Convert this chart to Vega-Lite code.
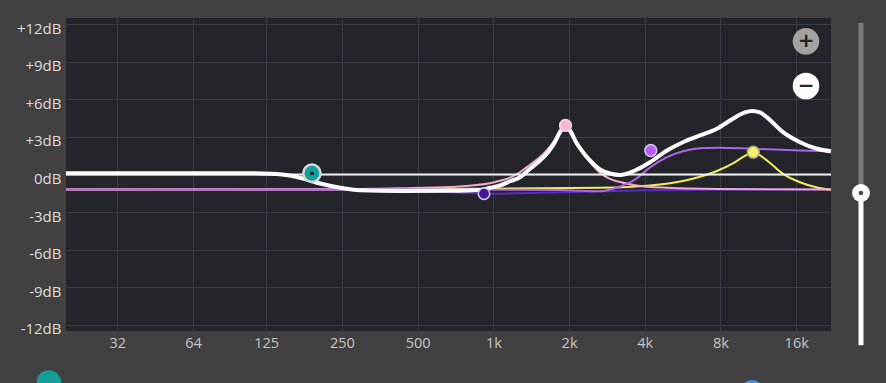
{
  "$schema": "https://vega.github.io/schema/vega-lite/v6.json",
  "width": 765,
  "height": 313,
  "autosize": {"type": "none"},
  "padding": {"left": 66, "top": 18, "right": 55, "bottom": 52},
  "background": "#414141",
  "view": {"fill": "#23252a", "stroke": null},
  "config": {
    "font": "Open Sans",
    "axis": {"gridColor": "#3a3d45", "gridWidth": 1, "domain": false, "ticks": false, "title": null}
  },
  "resolve": {"scale": {"fill": "independent", "color": "independent"}},
  "datasets": {
    "bands": [
      {"band": "indigo", "f": 20, "db": -1.2}, {"band": "indigo", "f": 269, "db": -1.22}, {"band": "indigo", "f": 511, "db": -1.3},
      {"band": "indigo", "f": 737, "db": -1.45}, {"band": "indigo", "f": 918, "db": -1.54}, {"band": "indigo", "f": 1276, "db": -1.5},
      {"band": "indigo", "f": 1840, "db": -1.42}, {"band": "indigo", "f": 2654, "db": -1.34}, {"band": "indigo", "f": 4196, "db": -1.25},
      {"band": "indigo", "f": 7746, "db": -1.22}, {"band": "indigo", "f": 22000, "db": -1.2},
      {"band": "pink", "f": 20, "db": -1.2}, {"band": "pink", "f": 224, "db": -1.18}, {"band": "pink", "f": 425, "db": -1.1},
      {"band": "pink", "f": 672, "db": -1.0}, {"band": "pink", "f": 970, "db": -0.7}, {"band": "pink", "f": 1063, "db": -0.5},
      {"band": "pink", "f": 1165, "db": -0.25}, {"band": "pink", "f": 1276, "db": 0.18}, {"band": "pink", "f": 1399, "db": 0.78},
      {"band": "pink", "f": 1533, "db": 1.4}, {"band": "pink", "f": 1650, "db": 2.05}, {"band": "pink", "f": 1758, "db": 2.8},
      {"band": "pink", "f": 1840, "db": 3.5}, {"band": "pink", "f": 1936, "db": 3.92}, {"band": "pink", "f": 2036, "db": 3.38},
      {"band": "pink", "f": 2130, "db": 2.6}, {"band": "pink", "f": 2272, "db": 1.7}, {"band": "pink", "f": 2422, "db": 1.0},
      {"band": "pink", "f": 2654, "db": 0.15}, {"band": "pink", "f": 2908, "db": -0.35}, {"band": "pink", "f": 3187, "db": -0.6},
      {"band": "pink", "f": 3658, "db": -0.85}, {"band": "pink", "f": 4902, "db": -1.06}, {"band": "pink", "f": 7746, "db": -1.16},
      {"band": "pink", "f": 22000, "db": -1.2},
      {"band": "yellow", "f": 20, "db": -1.2}, {"band": "yellow", "f": 425, "db": -1.18}, {"band": "yellow", "f": 885, "db": -1.14},
      {"band": "yellow", "f": 2654, "db": -1.06}, {"band": "yellow", "f": 4196, "db": -0.88}, {"band": "yellow", "f": 5674, "db": -0.52},
      {"band": "yellow", "f": 6630, "db": -0.18}, {"band": "yellow", "f": 7746, "db": 0.28}, {"band": "yellow", "f": 8968, "db": 0.88},
      {"band": "yellow", "f": 10008, "db": 1.48}, {"band": "yellow", "f": 10802, "db": 1.78}, {"band": "yellow", "f": 11480, "db": 1.52},
      {"band": "yellow", "f": 12244, "db": 1.12}, {"band": "yellow", "f": 14172, "db": 0.05}, {"band": "yellow", "f": 16564, "db": -0.62},
      {"band": "yellow", "f": 19348, "db": -1.04}, {"band": "yellow", "f": 22000, "db": -1.22},
      {"band": "violet", "f": 20, "db": -1.2}, {"band": "violet", "f": 425, "db": -1.2}, {"band": "violet", "f": 1840, "db": -1.24},
      {"band": "violet", "f": 2654, "db": -1.34}, {"band": "violet", "f": 3187, "db": -0.96}, {"band": "violet", "f": 3658, "db": -0.4},
      {"band": "violet", "f": 4196, "db": 0.56}, {"band": "violet", "f": 4902, "db": 1.38}, {"band": "violet", "f": 5674, "db": 1.86},
      {"band": "violet", "f": 6630, "db": 2.1}, {"band": "violet", "f": 7746, "db": 2.14}, {"band": "violet", "f": 10674, "db": 2.06},
      {"band": "violet", "f": 16564, "db": 1.92}, {"band": "violet", "f": 22000, "db": 1.86}
    ],
    "total": [
      {"f": 20, "db": 0.1}, {"f": 43, "db": 0.1}, {"f": 68, "db": 0.1}, {"f": 108, "db": 0.1}, {"f": 129, "db": 0.06},
      {"f": 155, "db": -0.08}, {"f": 178, "db": -0.36}, {"f": 205, "db": -0.72}, {"f": 246, "db": -1.06}, {"f": 295, "db": -1.26},
      {"f": 425, "db": -1.32}, {"f": 672, "db": -1.3}, {"f": 885, "db": -1.24}, {"f": 970, "db": -1.06}, {"f": 1063, "db": -0.88},
      {"f": 1165, "db": -0.54}, {"f": 1276, "db": -0.22}, {"f": 1399, "db": 0.46}, {"f": 1533, "db": 1.12}, {"f": 1650, "db": 1.78},
      {"f": 1758, "db": 2.6}, {"f": 1840, "db": 3.38}, {"f": 1936, "db": 3.88}, {"f": 2036, "db": 3.38}, {"f": 2130, "db": 2.6},
      {"f": 2272, "db": 1.78}, {"f": 2422, "db": 1.12}, {"f": 2654, "db": 0.4}, {"f": 2908, "db": 0.08}, {"f": 3187, "db": -0.04},
      {"f": 3658, "db": 0.32}, {"f": 4196, "db": 0.98}, {"f": 4902, "db": 1.92}, {"f": 5674, "db": 2.58}, {"f": 6630, "db": 3.12},
      {"f": 7746, "db": 3.66}, {"f": 8968, "db": 4.46}, {"f": 10008, "db": 4.96}, {"f": 10674, "db": 5.08}, {"f": 11480, "db": 4.96},
      {"f": 12244, "db": 4.56}, {"f": 14172, "db": 3.38}, {"f": 16564, "db": 2.58}, {"f": 19348, "db": 2.06}, {"f": 22000, "db": 1.86}
    ],
    "zero": [{"f": 20, "db": 0}, {"f": 22000, "db": 0}],
    "nodes": [
      {"band": "indigo", "f": 918, "db": -1.54},
      {"band": "pink", "f": 1936, "db": 3.92},
      {"band": "violet", "f": 4226, "db": 1.92},
      {"band": "yellow", "f": 10802, "db": 1.78}
    ],
    "shelf": [{"band": "teal", "f": 190, "db": 0.1}],
    "slider": [
      {"part": "above", "f": 28952, "db": 12.1, "db2": -1.48},
      {"part": "below", "f": 28952, "db": -1.48, "db2": -13.64}
    ],
    "knob": [{"f": 28952, "db": -1.48}],
    "buttons": [
      {"label": "+", "f": 17500, "db": 10.64},
      {"label": "−", "f": 17500, "db": 7.07}
    ],
    "footer": [
      {"item": "teal", "f": 17.1, "db": -16.6},
      {"item": "blue", "f": 10674, "db": -17.3}
    ]
  },
  "encoding": {
    "x": {
      "field": "f", "type": "quantitative",
      "scale": {"type": "log", "domain": [20, 22000], "nice": false},
      "axis": {
        "values": [32, 64, 125, 250, 500, 1000, 2000, 4000, 8000, 16000],
        "labelExpr": "datum.value >= 1000 ? (datum.value / 1000) + 'k' : datum.value",
        "labelColor": "#c4c4c4", "labelFontSize": 14.5, "labelPadding": 5, "labelFont": "Open Sans"
      }
    },
    "y": {
      "field": "db", "type": "quantitative",
      "scale": {"domain": [-12.5, 12.5], "nice": false, "zero": false},
      "axis": {
        "values": [-12, -9, -6, -3, 0, 3, 6, 9, 12],
        "labelExpr": "(datum.value > 0 ? '+' : '') + datum.value + 'dB'",
        "labelColor": "#dcdcdc", "labelFontSize": 15, "labelPadding": 5, "labelOffset": 4, "labelFont": "Open Sans"
      }
    }
  },
  "layer": [
    {"data": {"name": "bands"}, "transform": [{"filter": "datum.band === 'indigo'"}],
     "mark": {"type": "line", "interpolate": "monotone", "color": "#5a2cbf", "strokeWidth": 2}},
    {"data": {"name": "bands"}, "transform": [{"filter": "datum.band === 'yellow'"}],
     "mark": {"type": "line", "interpolate": "monotone", "color": "#f2ec5c", "strokeWidth": 2}},
    {"data": {"name": "bands"}, "transform": [{"filter": "datum.band === 'pink'"}],
     "mark": {"type": "line", "interpolate": "monotone", "color": "#f2abcb", "strokeWidth": 2}},
    {"data": {"name": "bands"}, "transform": [{"filter": "datum.band === 'violet'"}],
     "mark": {"type": "line", "interpolate": "monotone", "color": "#ad66ec", "strokeWidth": 2}},
    {"data": {"name": "zero"}, "mark": {"type": "line", "color": "#f0f0f0", "strokeWidth": 2}},
    {"data": {"name": "total"}, "mark": {"type": "line", "interpolate": "monotone", "color": "#ffffff", "strokeWidth": 4}},
    {"data": {"name": "nodes"}, "transform": [{"filter": "datum.band === 'indigo'"}],
     "mark": {"type": "point", "filled": true, "size": 130, "fill": "#4a179c", "stroke": "#d8cdea", "strokeWidth": 1.5, "opacity": 1}},
    {"data": {"name": "nodes"}, "transform": [{"filter": "datum.band === 'pink'"}],
     "mark": {"type": "point", "filled": true, "size": 140, "fill": "#f6b6d2", "stroke": "#f3d3e2", "strokeWidth": 1.5, "opacity": 1}},
    {"data": {"name": "nodes"}, "transform": [{"filter": "datum.band === 'violet'"}],
     "mark": {"type": "point", "filled": true, "size": 140, "fill": "#b35df5", "stroke": "#dcc4f2", "strokeWidth": 1.5, "opacity": 1}},
    {"data": {"name": "nodes"}, "transform": [{"filter": "datum.band === 'yellow'"}],
     "mark": {"type": "point", "filled": true, "size": 140, "fill": "#f7f06a", "stroke": "#a8a68a", "strokeWidth": 1.5, "opacity": 1}},
    {"data": {"name": "shelf"},
     "mark": {"type": "point", "filled": true, "size": 300, "fill": "#139e9a", "stroke": "#d6d6d6", "strokeWidth": 2.5, "opacity": 1}},
    {"data": {"name": "shelf"},
     "mark": {"type": "point", "filled": true, "size": 14, "color": "#111111", "opacity": 1}},
    {"data": {"name": "slider"}, "transform": [{"filter": "datum.part === 'above'"}],
     "mark": {"type": "rule", "strokeWidth": 5, "color": "#7c7c7c"},
     "encoding": {"y2": {"field": "db2"}}},
    {"data": {"name": "slider"}, "transform": [{"filter": "datum.part === 'below'"}],
     "mark": {"type": "rule", "strokeWidth": 5, "color": "#ffffff"},
     "encoding": {"y2": {"field": "db2"}}},
    {"data": {"name": "knob"},
     "mark": {"type": "point", "filled": true, "size": 320, "color": "#ffffff", "opacity": 1}},
    {"data": {"name": "knob"},
     "mark": {"type": "point", "filled": true, "size": 22, "color": "#4a4a4a", "opacity": 1}},
    {"data": {"name": "buttons"}, "transform": [{"filter": "datum.label === '+'"}],
     "mark": {"type": "point", "filled": true, "size": 707, "color": "#a2a2a2", "opacity": 1}},
    {"data": {"name": "buttons"}, "transform": [{"filter": "datum.label !== '+'"}],
     "mark": {"type": "point", "filled": true, "size": 707, "color": "#ffffff", "opacity": 1}},
    {"data": {"name": "buttons"},
     "mark": {"type": "text", "fontSize": 20, "fontWeight": "bold", "color": "#262626", "baseline": "middle", "align": "center", "font": "DejaVu Sans"},
     "encoding": {"text": {"field": "label"}}},
    {"data": {"name": "footer"}, "transform": [{"filter": "datum.item === 'teal'"}],
     "mark": {"type": "point", "filled": true, "size": 590, "color": "#139e9a", "opacity": 1}},
    {"data": {"name": "footer"}, "transform": [{"filter": "datum.item === 'blue'"}],
     "mark": {"type": "point", "filled": true, "size": 500, "color": "#4a8fe0", "opacity": 1}}
  ]
}
